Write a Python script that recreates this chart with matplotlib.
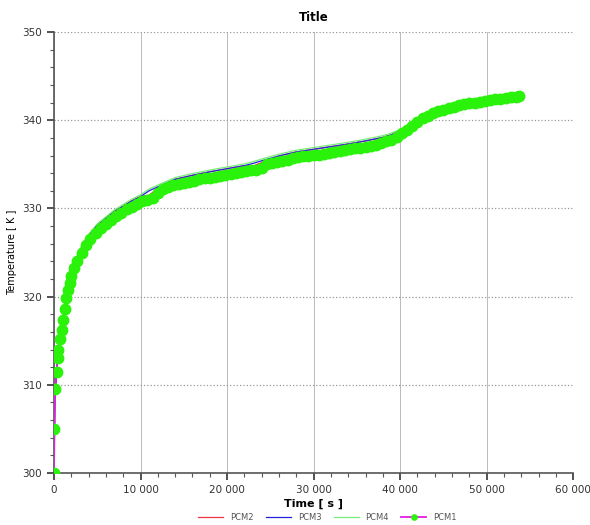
import matplotlib
matplotlib.use("Agg")
import matplotlib.pyplot as plt
from matplotlib.ticker import MultipleLocator, FuncFormatter

# ---------------- data ----------------
pcm1_t = [0, 50, 120, 300, 420, 500, 700, 900, 1080, 1250, 1400, 1600, 1800, 2000,
          2300, 2700, 3200, 3700, 4200, 4800, 5400, 6000, 6600, 7200, 7800, 8400,
          9000, 9600, 10200, 10800, 11400, 12000, 12600, 13200, 13800, 14400, 15000,
          15600, 16200, 16800, 17400, 18000, 18600, 19200, 19800, 20400, 21000,
          21600, 22200, 22800, 23400, 24000, 24600, 25200, 25800, 26400, 27000,
          27600, 28200, 28800, 29400, 30000, 30600, 31200, 31800, 32400, 33000,
          33600, 34200, 34800, 35400, 36000, 36600, 37200, 37800, 38400, 39000,
          39600, 40200, 40800, 41400, 42000, 42600, 43200, 43800, 44400, 45000,
          45600, 46200, 46800, 47400, 48000, 48600, 49200, 49800, 50400, 51000,
          51600, 52200, 52800, 53400, 53700]
pcm1_T = [300.0, 305.0, 309.5, 311.5, 313.0, 314.0, 315.2, 316.2, 317.3, 318.6, 319.8,
          320.8, 321.6, 322.3, 323.2, 324.0, 325.0, 325.8, 326.5, 327.2, 327.8, 328.2,
          328.7, 329.1, 329.5, 329.9, 330.2, 330.5, 330.8, 331.0, 331.2, 331.8, 332.2,
          332.4, 332.6, 332.8, 332.9, 333.0, 333.1, 333.3, 333.4, 333.5, 333.6, 333.7,
          333.8, 333.9, 334.0, 334.1, 334.2, 334.3, 334.4, 334.6, 335.0, 335.2, 335.3,
          335.4, 335.5, 335.7, 335.8, 335.9, 336.0, 336.05, 336.1, 336.2, 336.3, 336.4,
          336.5, 336.6, 336.7, 336.8, 336.9, 337.0, 337.1, 337.2, 337.4, 337.6, 337.8,
          338.1, 338.5, 338.9, 339.4, 339.8, 340.2, 340.5, 340.8, 341.0, 341.2, 341.4,
          341.5, 341.7, 341.8, 341.9, 342.0, 342.1, 342.2, 342.3, 342.4, 342.45, 342.5,
          342.6, 342.65, 342.7]

pcmx_t = [0, 100, 300, 600, 1000, 1400, 2000, 3000, 4000, 5000, 6000, 7000, 8000,
          9000, 10000, 11000, 12000, 14000, 16000, 18000, 20000, 22000, 23000, 24000,
          26000, 28000, 30000, 32000, 34000, 36000, 38000, 39000, 40000, 41000, 42000,
          43000, 44000, 46000, 48000, 50000, 52000, 53700]
pcm3_T = [300.0, 308.2, 311.7, 314.9, 317.1, 320.3, 322.9, 325.2, 326.85, 328.05, 328.85,
          329.65, 330.25, 330.85, 331.35, 332.0, 332.45, 333.3, 333.75, 334.15, 334.5,
          334.85, 335.1, 335.4, 335.95, 336.4, 336.7, 337.0, 337.3, 337.65, 338.05,
          338.35, 338.8, 339.3, 339.85, 340.4, 340.9, 341.5, 341.9, 342.25, 342.5, 342.7]
pcm2_T = [300.0, 308.2, 311.7, 314.9, 317.1, 320.3, 322.9, 325.2, 326.85, 328.05, 328.85,
          329.65, 330.25, 330.85, 331.35, 331.5, 332.3, 333.3, 333.75, 334.15, 334.5,
          334.85, 334.8, 335.2, 335.95, 336.4, 336.7, 337.0, 337.3, 337.65, 338.05,
          338.35, 338.8, 339.3, 339.85, 340.4, 340.9, 341.5, 341.9, 342.25, 342.5, 342.7]
pcm4_T = [300.0, 308.3, 311.8, 315.0, 317.3, 320.5, 323.1, 325.4, 327.05, 328.25, 329.05,
          329.85, 330.45, 331.05, 331.55, 332.2, 332.65, 333.5, 333.95, 334.35, 334.7,
          335.05, 335.3, 335.6, 336.15, 336.6, 336.9, 337.2, 337.5, 337.85, 338.25,
          338.55, 338.95, 339.4, 339.9, 340.4, 340.9, 341.5, 341.9, 342.25, 342.5, 342.7]

y_ticks = [300, 310, 320, 330, 340, 350]
x_ticks = [0, 10000, 20000, 30000, 40000, 50000, 60000]

# ---------------- figure ----------------
fig = plt.figure(figsize=(5.9, 5.25), dpi=100)
ax = fig.add_axes([0.0915, 0.099, 0.88, 0.84])

ax.plot(pcmx_t, pcm2_T, color='#ee3344', lw=0.9, label='PCM2', zorder=3)
ax.plot(pcmx_t, pcm3_T, color='#2222dd', lw=0.9, label='PCM3', zorder=4)
ax.plot(pcmx_t, pcm4_T, color='#77ee77', lw=0.9, label='PCM4', zorder=2)
ax.plot(pcm1_t, pcm1_T, color='#e020e0', lw=1.3, marker='o', markersize=7.5,
        markerfacecolor='#2af20a', markeredgecolor='#2af20a', label='PCM1', zorder=5)

ax.set_xlim(0, 60000)
ax.set_ylim(300, 350)
ax.set_xticks(x_ticks)
ax.set_yticks(y_ticks)
ax.xaxis.set_minor_locator(MultipleLocator(2000))
ax.yaxis.set_minor_locator(MultipleLocator(2))
ax.xaxis.set_major_formatter(FuncFormatter(lambda v, p: f"{int(v):,}".replace(",", " ")))
ax.tick_params(axis='both', which='major', labelsize=7.5, length=5, width=1.2,
               color='#333333', labelcolor='#333333', direction='out')
ax.tick_params(axis='both', which='minor', length=3, width=0.8, color='#555555',
               direction='out')

for s in ['top', 'right']:
    ax.spines[s].set_visible(False)
for s in ['left', 'bottom']:
    ax.spines[s].set_color('#555555')
    ax.spines[s].set_linewidth(1.2)

ax.grid(True, which='major', axis='y', color='#999999', linestyle=':', linewidth=0.9)
ax.grid(True, which='major', axis='x', color='#bbbbbb', linestyle='-', linewidth=0.7)

ax.set_title('Title', fontsize=8.5, fontweight='bold', pad=8)
ax.set_xlabel('Time [ s ]', fontsize=8, fontweight='bold', labelpad=3)
ax.set_ylabel('Temperature [ K ]', fontsize=7, labelpad=4)

handles, labels = ax.get_legend_handles_labels()
order = [labels.index(l) for l in ['PCM2', 'PCM3', 'PCM4', 'PCM1']]
leg = fig.legend([handles[i] for i in order], [labels[i] for i in order],
                 loc='center', bbox_to_anchor=(0.555, 0.015), ncol=4, frameon=False,
                 fontsize=6, handlelength=3, markerscale=0.5, columnspacing=1.5)
for t in leg.get_texts():
    t.set_color('#555555')

fig.savefig('out.png', dpi=100)
